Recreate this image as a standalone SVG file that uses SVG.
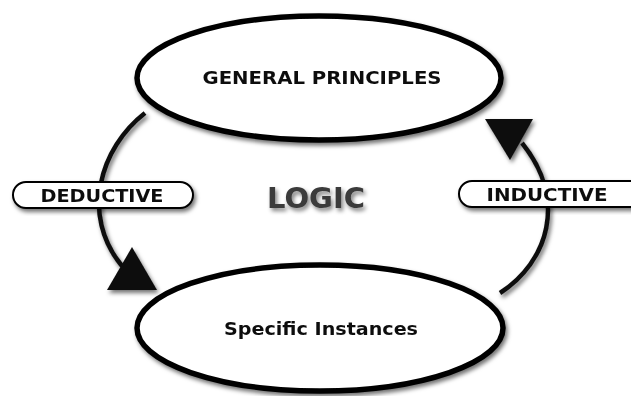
<svg xmlns="http://www.w3.org/2000/svg" width="631" height="396" viewBox="0 0 631 396">
<style>
.node{fill:#fff;stroke:#000;stroke-width:5.5}
.pill{fill:#fff;stroke:#000;stroke-width:2}
.lbl{font-family:"DejaVu Sans",Verdana,sans-serif;font-weight:bold;fill:#111;text-anchor:middle}
.conn{fill:none;stroke:#111;stroke-width:4.5}
.head{fill:#111}
</style>
<defs>
<filter id="sh" x="-20%" y="-20%" width="140%" height="150%">
<feDropShadow dx="2" dy="3" stdDeviation="2" flood-color="#000" flood-opacity="0.55"/>
</filter>
<filter id="tsh" x="-20%" y="-40%" width="140%" height="180%">
<feGaussianBlur in="SourceAlpha" stdDeviation="2"/>
<feOffset dx="2" dy="3" result="b"/>
<feComponentTransfer in="b" result="b2"><feFuncA type="linear" slope="0.5"/></feComponentTransfer>
<feGaussianBlur in="SourceGraphic" stdDeviation="0.6" result="s"/>
<feMerge><feMergeNode in="b2"/><feMergeNode in="s"/></feMerge>
</filter>
</defs>
<rect width="631" height="396" fill="#fff"/>
<g id="connectors" filter="url(#sh)">
<path class="conn" d="M145,113 C100,148 80,215 122,266"/>
<polygon class="head" points="157,290 132,247 107,290"/>
<path class="conn" d="M500,293 C548,262 568,200 522,143"/>
<polygon class="head" points="485,119 533,119 510,160"/>
</g>
<g id="general" filter="url(#sh)">
<ellipse class="node" cx="319" cy="78" rx="182" ry="62"/>
<text class="lbl" x="322" y="84" font-size="18" textLength="239" lengthAdjust="spacingAndGlyphs">GENERAL PRINCIPLES</text>
</g>
<g id="specific" filter="url(#sh)">
<ellipse class="node" cx="320" cy="328" rx="183" ry="63"/>
<text class="lbl" x="321" y="335" font-size="18" textLength="194" lengthAdjust="spacingAndGlyphs">Specific Instances</text>
</g>
<g id="deductive" filter="url(#sh)">
<rect class="pill" x="13" y="182" width="180" height="26" rx="13"/>
<text class="lbl" x="102" y="202" font-size="17.5" textLength="123" lengthAdjust="spacingAndGlyphs">DEDUCTIVE</text>
</g>
<g id="inductive" filter="url(#sh)">
<rect class="pill" x="459" y="181" width="190" height="26" rx="13"/>
<text class="lbl" x="547" y="201" font-size="17.5" textLength="121" lengthAdjust="spacingAndGlyphs">INDUCTIVE</text>
</g>
<g id="logic" filter="url(#tsh)">
<text class="lbl" x="316" y="208" font-size="28" style="fill:#3a3a3a" textLength="98" lengthAdjust="spacingAndGlyphs">LOGIC</text>
</g>
</svg>
